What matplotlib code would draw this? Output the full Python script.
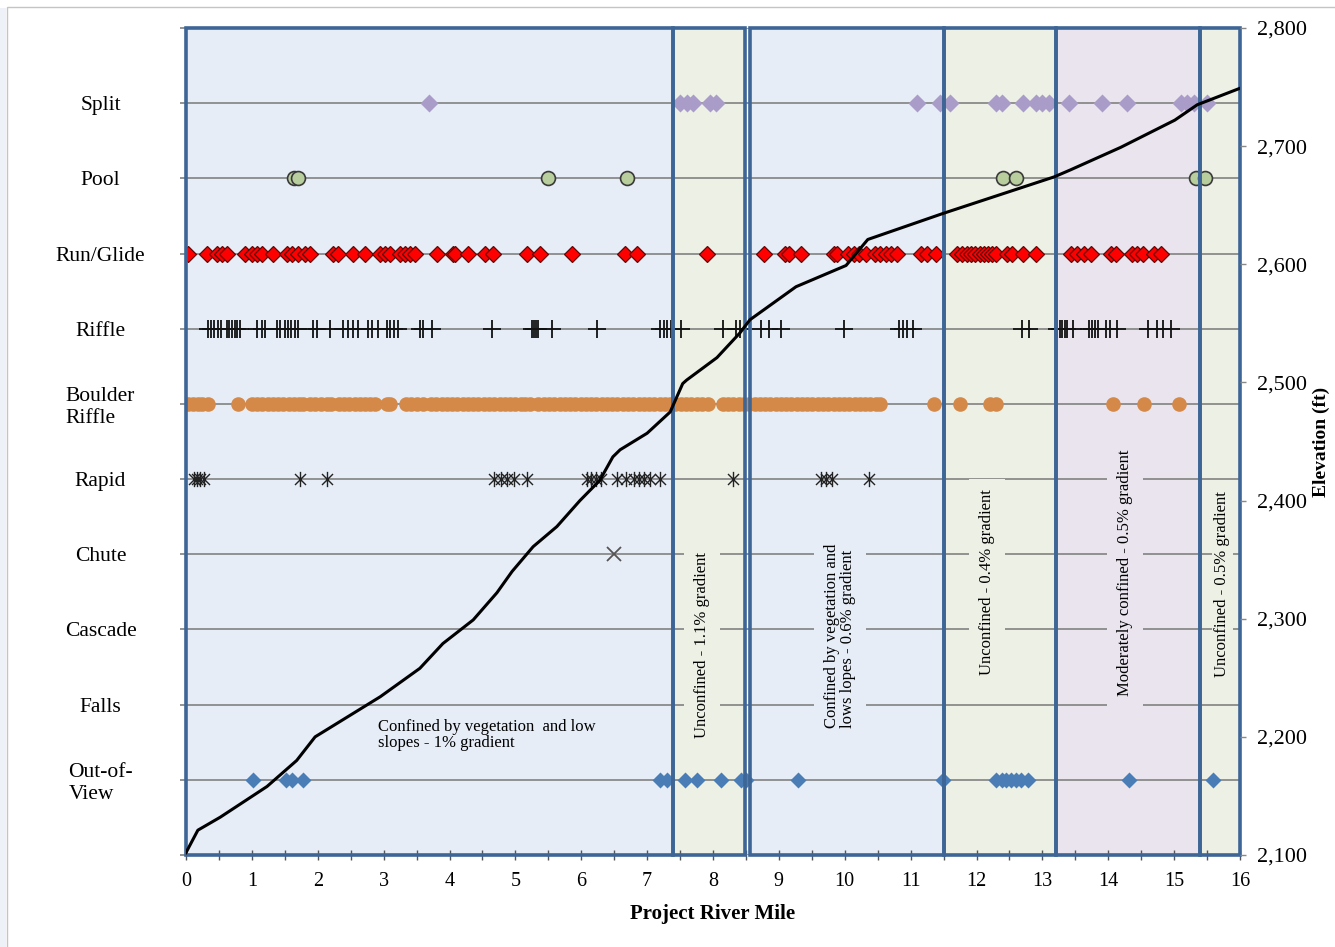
#!/usr/bin/env python3
# Habitat unit positions along the river, with the elevation profile on a twin axis.

import matplotlib
matplotlib.use("Agg")
import matplotlib.pyplot as plt
from matplotlib.patches import Rectangle
from matplotlib.path import Path
from matplotlib.ticker import FuncFormatter, MultipleLocator

plt.rcParams["font.family"] = ["Liberation Serif", "DejaVu Serif"]

# rows, top to bottom
categories = ["Split", "Pool", "Run/Glide", "Riffle", "Boulder\nRiffle", "Rapid",
              "Chute", "Cascade", "Falls", "Out-of-\nView"]

split_mi = [3.69, 7.5, 7.6, 7.7, 7.95, 8.05, 11.1, 11.45, 11.6, 12.3, 12.38, 12.7,
            12.9, 13.0, 13.1, 13.4, 13.9, 14.28, 15.1, 15.2, 15.3, 15.5]
pool_mi = [1.64, 1.7, 5.5, 6.69, 12.4, 12.6, 15.33, 15.47]
run_mi = [0.03, 0.32, 0.47, 0.55, 0.62, 0.9, 1.0, 1.08, 1.15, 1.32, 1.53, 1.61, 1.7,
          1.81, 1.88, 2.23, 2.31, 2.54, 2.72, 2.94, 3.02, 3.1, 3.25, 3.32, 3.4, 3.48,
          3.81, 4.05, 4.08, 4.28, 4.54, 4.66, 5.17, 5.37, 5.86, 6.66, 6.84, 7.91,
          8.77, 9.1, 9.16, 9.34, 9.84, 9.88, 10.05, 10.14, 10.22, 10.32, 10.46,
          10.54, 10.62, 10.7, 10.8, 11.16, 11.25, 11.39, 11.7, 11.78, 11.85, 11.92,
          11.98, 12.05, 12.12, 12.18, 12.24, 12.3, 12.46, 12.54, 12.7, 12.9, 13.44,
          13.53, 13.63, 13.74, 14.04, 14.12, 14.36, 14.44, 14.53, 14.7, 14.8]
riffle_mi = [0.33, 0.38, 0.43, 0.48, 0.53, 0.62, 0.66, 0.7, 0.74, 0.78, 0.82, 1.08,
             1.15, 1.2, 1.38, 1.43, 1.5, 1.55, 1.6, 1.65, 1.7, 1.93, 1.99, 2.19,
             2.39, 2.46, 2.54, 2.61, 2.77, 2.82, 2.92, 3.05, 3.1, 3.15, 3.22, 3.55,
             3.6, 3.73, 4.64, 5.25, 5.28, 5.32, 5.35, 5.56, 6.24, 7.2, 7.25, 7.3,
             7.37, 7.51, 8.15, 8.35, 8.41, 8.73, 8.85, 9.03, 9.99, 10.82, 10.88,
             10.95, 11.03, 12.69, 12.8, 13.22, 13.26, 13.3, 13.34, 13.38, 13.46,
             13.71, 13.76, 13.8, 13.85, 13.97, 14.03, 14.13, 14.6, 14.74, 14.83, 14.95]
boulder_mi = [0.03, 0.1, 0.18, 0.25, 0.33, 0.79, 1.0, 1.08, 1.16, 1.24, 1.32, 1.4,
              1.48, 1.56, 1.64, 1.72, 1.78, 1.88, 1.96, 2.05, 2.14, 2.2, 2.32, 2.4,
              2.48, 2.56, 2.64, 2.72, 2.8, 2.87, 3.05, 3.1, 3.34, 3.42, 3.5, 3.6,
              3.72, 3.8, 3.88, 3.96, 4.04, 4.12, 4.2, 4.28, 4.36, 4.44, 4.52, 4.6,
              4.68, 4.76, 4.84, 4.92, 5.0, 5.08, 5.15, 5.22, 5.35, 5.43, 5.51, 5.59,
              5.67, 5.75, 5.83, 5.91, 5.99, 6.07, 6.15, 6.23, 6.31, 6.39, 6.47, 6.55,
              6.63, 6.71, 6.79, 6.87, 6.95, 7.03, 7.11, 7.19, 7.27, 7.35, 7.43, 7.51,
              7.59, 7.67, 7.75, 7.83, 7.92, 8.15, 8.23, 8.31, 8.39, 8.47, 8.55, 8.63,
              8.71, 8.79, 8.87, 8.95, 9.03, 9.11, 9.19, 9.27, 9.35, 9.43, 9.51, 9.59,
              9.67, 9.75, 9.83, 9.91, 9.99, 10.07, 10.15, 10.23, 10.31, 10.39, 10.47,
              10.53, 11.35, 11.75, 12.2, 12.3, 14.07, 14.54, 15.07]
rapid_mi = [0.12, 0.17, 0.22, 0.28, 1.73, 2.14, 4.68, 4.78, 4.88, 4.98, 5.18, 6.08,
            6.15, 6.22, 6.3, 6.55, 6.68, 6.8, 6.88, 6.95, 7.05, 7.2, 8.3, 9.64, 9.72,
            9.8, 10.37]
chute_mi = [6.5]
cascade_mi = []
falls_mi = []
oov_mi = [1.02, 1.52, 1.61, 1.77, 7.2, 7.3, 7.57, 7.76, 8.12, 8.42, 8.5, 9.29, 11.49,
          12.3, 12.38, 12.45, 12.52, 12.6, 12.68, 12.78, 14.32, 15.59]

# elevation profile
profile_mi = [0, 0.18, 0.52, 1.23, 1.68, 1.96, 2.95, 3.55, 3.9, 4.36, 4.72, 4.95, 5.27,
              5.63, 5.98, 6.28, 6.48, 6.59, 7.0, 7.35, 7.54, 7.6, 8.06, 8.41, 8.56,
              9.26, 10.02, 10.35, 11.49, 13.18, 13.43, 14.19, 15.01, 15.35, 16.0]
profile_ft = [2102, 2121, 2132, 2158, 2180, 2200, 2234, 2258, 2279, 2299, 2322, 2340,
              2361, 2378, 2400, 2417, 2437, 2443, 2457, 2475, 2499, 2502, 2521, 2542,
              2553, 2581, 2599, 2621, 2643, 2674, 2680, 2699, 2722, 2735, 2749]

# confinement reaches
reach_start = [0.0, 7.4, 8.56, 11.5, 13.2, 15.4]
reach_end = [7.4, 8.48, 11.5, 13.2, 15.4, 16.0]
reach_kind = ["confined", "unconfined", "confined", "unconfined", "moderate", "unconfined"]
reach_color = {"confined": "#E6EDF7", "unconfined": "#EDF0E5", "moderate": "#E9E4EE"}

# asterisk marker: X plus vertical bar
star = Path([(0, -1), (0, 1), (-0.72, -0.72), (0.72, 0.72), (-0.72, 0.72), (0.72, -0.72)],
            [Path.MOVETO, Path.LINETO] * 3)

styles = {
    "Split": dict(marker="D", ms=9, mfc="#A99CC9", mec="none"),
    "Pool": dict(marker="o", ms=10, mfc="#B8CE9D", mec="#3A3A3A", mew=1.2),
    "Run/Glide": dict(marker="D", ms=8, mfc="#FF0000", mec="#5C0A0A", mew=0.9),
    "Riffle": dict(marker="+", ms=13, mec="#111111", mew=1.3),
    "Boulder\nRiffle": dict(marker="o", ms=10.5, mfc="#D48948", mec="none"),
    "Rapid": dict(marker=star, ms=11, mec="#222222", mfc="none", mew=1.0),
    "Chute": dict(marker="x", ms=10, mec="#555555", mew=1.3),
    "Cascade": dict(marker="o", ms=8),
    "Falls": dict(marker="o", ms=8),
    "Out-of-\nView": dict(marker="D", ms=8, mfc="#4A7DB5", mec="none"),
}
series = [split_mi, pool_mi, run_mi, riffle_mi, boulder_mi, rapid_mi,
          chute_mi, cascade_mi, falls_mi, oov_mi]

grid_col = "#8A8A8A"
edge_col = "#3D6595"

fig = plt.figure(figsize=(13.35, 9.47), dpi=100)
ax = fig.add_axes([186 / 1335, 92 / 947, 1054 / 1335, 827 / 947])

# chart-area border
fig.patches.append(Rectangle((7 / 1335, -0.01), 1.02, 1.01 - 7 / 947,
                             transform=fig.transFigure, fill=False, ec="#C4C4C4", lw=1.0))
fig.patches.append(Rectangle((0, 0), 6 / 1335, 1 - 8 / 947, transform=fig.transFigure,
                             fc="#EEF2F8", ec="none"))

ax.set_xlim(0, 16)
ax.set_ylim(0, 11)
for s in ax.spines.values():
    s.set_visible(False)

ax.set_axisbelow(True)
ax.yaxis.grid(True, color=grid_col, lw=1.3)

for x0, x1, kind in zip(reach_start, reach_end, reach_kind):
    tr = ax.get_xaxis_transform()
    ax.add_patch(Rectangle((x0, 0), x1 - x0, 1, transform=tr, fc=reach_color[kind],
                           ec="none", zorder=0.1))
    ax.add_patch(Rectangle((x0, 0), x1 - x0, 1, transform=tr, fill=False,
                           ec=edge_col, lw=2.6, zorder=6, clip_on=False))

n = len(categories)
for i, (name, xs) in enumerate(zip(categories, series)):
    level = n - i
    if xs:
        ax.plot(xs, [level] * len(xs), ls="none", zorder=5, **styles[name])

# row labels
ax.set_yticks(range(0, n + 2))
ax.set_yticklabels([""] + categories[::-1] + [""], fontsize=15.5)
ax.tick_params(axis="y", length=4.5, width=1.3, color=grid_col, pad=57)
for lab in ax.get_yticklabels():
    lab.set_horizontalalignment("center")
    lab.set_multialignment("left")

ax.xaxis.set_major_locator(MultipleLocator(1))
ax.xaxis.set_minor_locator(MultipleLocator(0.5))
ax.tick_params(axis="x", which="both", direction="inout", length=7, width=1.0,
               color="#555555", labelsize=14.5, pad=9)
ax.set_xlabel("Project River Mile", fontsize=15, fontweight="bold", labelpad=9)

# reach descriptions
box = dict(boxstyle="square,pad=0.6", ec="none")
ax.text(2.91, 1.6, "Confined by vegetation  and low\nslopes - 1% gradient", fontsize=12,
        ha="left", va="center", linespacing=1.0, zorder=4)
ax.text(7.83, 2.79, "Unconfined - 1.1% gradient", rotation=90, fontsize=12,
        ha="center", va="center", zorder=4, bbox=dict(box, fc=reach_color["unconfined"]))
ax.text(9.93, 2.91, "Confined by vegetation and\nlows lopes - 0.6% gradient", rotation=90,
        fontsize=12, ha="center", va="center", multialignment="left", linespacing=1.0,
        zorder=4, bbox=dict(box, fc=reach_color["confined"]))
ax.text(12.16, 3.63, "Unconfined - 0.4% gradient", rotation=90, fontsize=12,
        ha="center", va="center", zorder=4, bbox=dict(box, fc=reach_color["unconfined"]))
ax.text(14.25, 3.75, "Moderately confined - 0.5% gradient", rotation=90, fontsize=12,
        ha="center", va="center", zorder=4, bbox=dict(box, fc=reach_color["moderate"]))
ax.text(15.73, 3.6, "Unconfined - 0.5% gradient", rotation=90, fontsize=12,
        ha="center", va="center", zorder=4,
        bbox=dict(boxstyle="square,pad=0.15", ec="none", fc=reach_color["unconfined"]))

# elevation on the right axis
ax2 = ax.twinx()
for s in ax2.spines.values():
    s.set_visible(False)
ax2.plot(profile_mi, profile_ft, color="black", lw=2.2, zorder=7)
ax2.set_ylim(2100, 2800)
ax2.yaxis.set_major_locator(MultipleLocator(100))
ax2.yaxis.set_major_formatter(FuncFormatter(lambda v, p: f"{v:,.0f}"))
ax2.tick_params(axis="y", length=4, width=1.0, color="#888888", labelsize=16, pad=8)
ax2.set_ylabel("Elevation (ft)", fontsize=14, fontweight="bold", labelpad=4)

fig.savefig("out.png", dpi=100)
